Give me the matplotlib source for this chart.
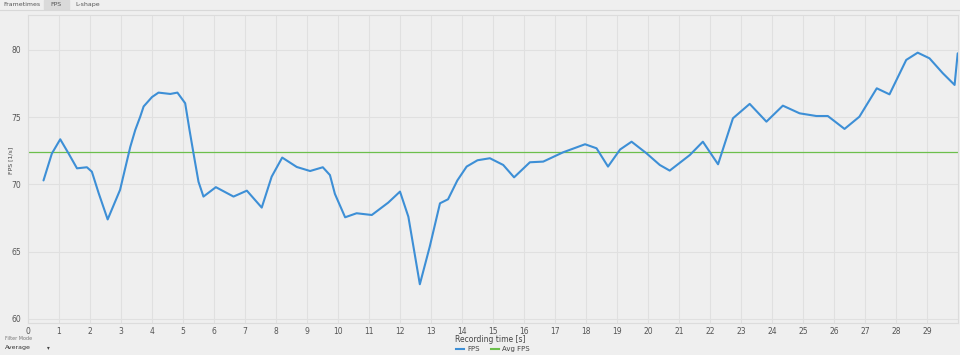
import matplotlib
matplotlib.use("Agg")
import matplotlib.pyplot as plt
from matplotlib.lines import Line2D

# values
time_s = [0.50, 0.77, 1.04, 1.31, 1.58, 1.90, 2.06, 2.28, 2.57, 2.97,
          3.30, 3.46, 3.62, 3.73, 4.00, 4.21, 4.59, 4.82, 5.07, 5.21,
          5.34, 5.50, 5.66, 6.06, 6.63, 7.06, 7.54, 7.86, 8.20, 8.67,
          9.10, 9.51, 9.74, 9.90, 10.23, 10.60, 11.09, 11.62, 12.00, 12.27,
          12.64, 12.96, 13.29, 13.55, 13.85, 14.15, 14.50, 14.90, 15.33, 15.68,
          16.19, 16.62, 17.26, 17.97, 18.34, 18.71, 19.10, 19.47, 19.95, 20.38,
          20.70, 21.35, 21.77, 22.26, 22.74, 23.28, 23.82, 24.35, 24.89, 25.43,
          25.80, 26.34, 26.82, 27.38, 27.79, 28.33, 28.70, 29.08, 29.51, 29.89,
          29.99]
fps = [70.3, 72.3, 73.36, 72.3, 71.2, 71.28, 70.95, 69.35, 67.4, 69.6,
       72.8, 74.05, 75.04, 75.8, 76.5, 76.83, 76.73, 76.83, 76.04, 74.05,
       72.3, 70.2, 69.1, 69.8, 69.1, 69.54, 68.28, 70.58, 72.0, 71.3,
       71.0, 71.28, 70.7, 69.3, 67.56, 67.86, 67.73, 68.65, 69.47, 67.6,
       62.58, 65.38, 68.6, 68.9, 70.3, 71.33, 71.8, 71.95, 71.45, 70.53,
       71.65, 71.70, 72.39, 72.99, 72.69, 71.33, 72.6, 73.18, 72.32, 71.45,
       71.03, 72.19, 73.18, 71.5, 74.92, 75.99, 74.67, 75.86, 75.29, 75.09,
       75.09, 74.13, 75.04, 77.15, 76.7, 79.26, 79.8, 79.38, 78.27, 77.4,
       79.75]
avg_fps = 72.4
x_ticks = list(range(0, 30))
y_ticks = [60, 65, 70, 75, 80]
tabs = ["Frametimes", "FPS", "L-shape"]

bg = "#efefef"
fig = plt.figure(figsize=(9.6, 3.55), dpi=100, facecolor=bg)
ax = fig.add_axes([28 / 960, 1 - 323 / 355, 930 / 960, 308 / 355])
ax.set_facecolor(bg)

ax.plot(time_s, fps, color="#3d8fd6", lw=1.5, solid_joinstyle="round",
        solid_capstyle="round", zorder=3)
ax.axhline(avg_fps, color="#6cbf4c", lw=0.9, zorder=2)

ax.set_xlim(0, 30)
ax.set_ylim(59.7, 82.6)
ax.set_xticks(x_ticks)
ax.set_yticks(y_ticks)
ax.tick_params(length=0, labelsize=5.5, labelcolor="#555555")
ax.tick_params(axis="x", pad=3)
ax.tick_params(axis="y", pad=5)
ax.grid(True, color="#e0e0e0", lw=0.8)
ax.set_axisbelow(True)
for sp in ax.spines.values():
    sp.set_color("#dcdcdc")
    sp.set_linewidth(0.8)

# axis titles placed by hand, like the app does
fig.text(490 / 960, 1 - 340 / 355, "Recording time [s]", fontsize=5.5,
         color="#444444", ha="center", va="center")
fig.text(11 / 960, 1 - 160 / 355, "FPS [1/s]", fontsize=4.5, color="#444444",
         ha="center", va="center", rotation=90)

# legend under the x label
handles = [Line2D([], [], color="#3d8fd6", lw=1.5),
           Line2D([], [], color="#6cbf4c", lw=1.5)]
fig.legend(handles, ["FPS", "Avg FPS"], loc="center",
           bbox_to_anchor=(493 / 960, 1 - 349 / 355), ncol=2, frameon=False,
           fontsize=5, handlelength=1.2, handletextpad=0.5, columnspacing=1.5,
           labelcolor="#444444", borderpad=0.1)

# tab strip at the top
fig.patches.append(plt.Rectangle((44 / 960, 1 - 9 / 355), 25 / 960, 9 / 355,
                                 transform=fig.transFigure, color="#dadada", zorder=0))
fig.lines.append(Line2D([0, 1], [1 - 9.5 / 355] * 2, transform=fig.transFigure,
                        color="#d8d8d8", lw=0.8))
tab_x = [3, 50, 75]
for tx, label in zip(tab_x, tabs):
    fig.text(tx / 960, 1 - 4.5 / 355, label, fontsize=4.5, color="#555555", va="center")

# filter mode box bottom left
fig.text(5 / 960, 1 - 339 / 355, "Filter Mode", fontsize=3.5, color="#777777", va="center")
fig.text(5 / 960, 1 - 348 / 355, "Average", fontsize=4.5, color="#333333", va="center")
fig.text(47 / 960, 1 - 348 / 355, "▾", fontsize=4, color="#444444", va="center")

fig.savefig("out.png", dpi=100, facecolor=bg)
